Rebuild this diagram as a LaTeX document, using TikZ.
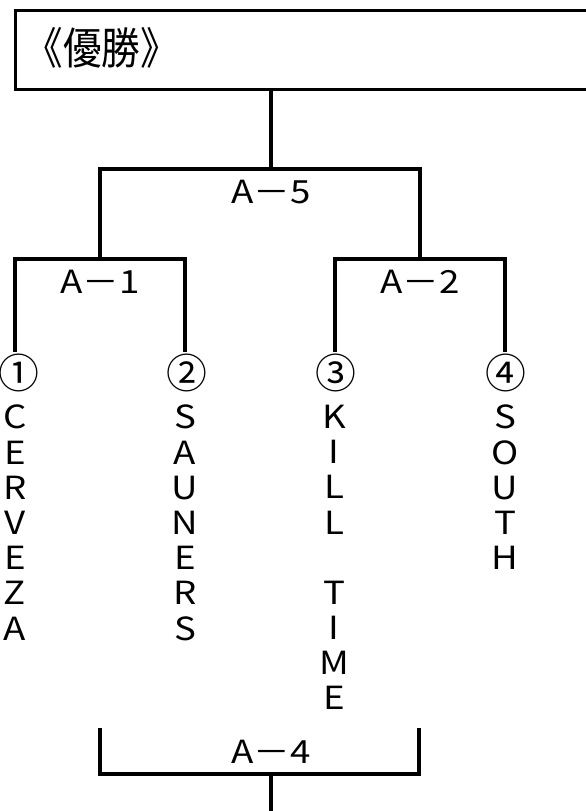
\documentclass[tikz,border=0pt]{standalone}
\usepackage{fontspec}
\setmainfont{Noto Sans CJK JP}
\newfontfamily\widefont[FakeStretch=1.15]{Noto Sans CJK JP}
\newfontfamily\narrowfont[FakeStretch=0.88]{Noto Sans CJK JP}
\begin{document}
\begin{tikzpicture}[x=1bp,y=-1bp,
  lbl/.style={inner sep=0pt, font=\widefont\fontsize{32}{32}\selectfont},
  col/.style={inner sep=0pt, anchor=north, align=center, font=\widefont\fontsize{32}{35.3}\selectfont},
  num/.style={inner sep=0pt, font=\fontsize{41}{41}\selectfont},
  wire/.style={line width=3.2bp}]
\clip (0,0) rectangle (586,811);
% winner box
\node[draw, line width=3.4bp, minimum width=600bp, minimum height=79bp, anchor=north west, inner sep=0pt] (win) at (14,9) {};
\node[inner sep=0pt, font=\narrowfont\fontsize{44}{44}\selectfont] (wintxt) at (102,48) {《優勝》};
% bracket coordinates
\coordinate (a5c) at (271,169);
\coordinate (a1c) at (100,259);
\coordinate (a2c) at (420,259);
\coordinate (p1) at (15,352);
\coordinate (p2) at (185,352);
\coordinate (p3) at (335,352);
\coordinate (p4) at (505,352);
% labels
\node[lbl] (l5) at (271,192) {A－5};
\node[lbl] (l1) at (100,282) {A－1};
\node[lbl] (l2) at (420,282) {A－2};
\node[lbl] (l4) at (271,752) {A－4};
% numbers
\node[num] (n1) at (19,373) {\makebox[28bp]{①}};
\node[num] (n2) at (187,373) {\makebox[28bp]{②}};
\node[num] (n3) at (336,373) {\makebox[28bp]{③}};
\node[num] (n4) at (506,373) {\makebox[28bp]{④}};
% team names
\node[col] (t1) at (15,405) {C\\E\\R\\V\\E\\Z\\A};
\node[col] (t2) at (185,405) {S\\A\\U\\N\\E\\R\\S};
\node[col] (t3) at (334,405) {K\\I\\L\\L\\\mbox{}\\T\\I\\M\\E};
\node[col] (t4) at (505,405) {S\\O\\U\\T\\H};
% connectors
\draw[wire] (a5c |- win.south) -- (a5c);
\draw[wire] (a1c) |- (a5c) -| (a2c);
\draw[wire] (p1) |- (a1c) -| (p2);
\draw[wire] (p3) |- (a2c) -| (p4);
% A-4 bracket
\coordinate (b4l) at (100,728);
\coordinate (b4r) at (419,728);
\coordinate (b4c) at (271,774);
\coordinate (b4s) at (271,820);
\draw[wire] (b4l) |- (b4c) -| (b4r);
\draw[wire] (b4c) -- (b4s);
\end{tikzpicture}
\end{document}
